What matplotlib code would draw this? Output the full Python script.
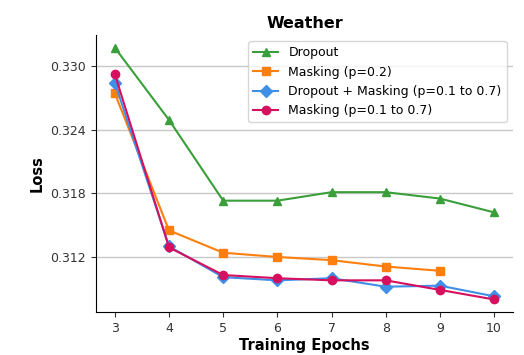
import numpy as np
import matplotlib.pyplot as plt

epochs = [3, 4, 5, 6, 7, 8, 9, 10]
dropout = [0.3317, 0.3249, 0.3173, 0.3173, 0.3181, 0.3181, 0.3175, 0.3162]
masking_fixed = [0.3274, 0.3145, 0.3124, 0.3120, 0.3117, 0.3111, 0.3107]
dropout_masking = [0.3284, 0.3130, 0.3101, 0.3098, 0.3100, 0.3092, 0.3093, 0.3083]
masking_range = [0.3292, 0.3129, 0.3103, 0.3100, 0.3098, 0.3098, 0.3089, 0.3080]
yticks = [0.312, 0.318, 0.324, 0.330]

fig, ax = plt.subplots(figsize=(5.24, 3.55), dpi=100)
fig.subplots_adjust(left=0.183, right=0.979, bottom=0.121, top=0.901)

ax.plot(epochs, dropout, marker='^', color='#3a9f3a', lw=1.5, ms=6, label='Dropout')
ax.plot(epochs[:7], masking_fixed, marker='s', color='#ff7f0e', lw=1.5, ms=6, label='Masking (p=0.2)')
ax.plot(epochs, dropout_masking, marker='D', color='#3f8fe6', lw=1.5, ms=6, label='Dropout + Masking (p=0.1 to 0.7)')
ax.plot(epochs, masking_range, marker='o', color='#d6105f', lw=1.5, ms=6, label='Masking (p=0.1 to 0.7)')

ax.set_yticks(yticks)
ax.set_xticks(epochs)
ax.yaxis.grid(True, color='#c8c8c8', lw=1)
ax.set_axisbelow(True)
ax.spines['top'].set_visible(False)
ax.spines['right'].set_visible(False)
ax.tick_params(colors='#333333', labelsize=9, length=3.5)

ax.set_title('Weather', fontweight='bold', fontsize=11.5, pad=5)
ax.set_xlabel('Training Epochs', fontweight='bold', fontsize=10.5, labelpad=2)
ax.set_ylabel('Loss', fontweight='bold', fontsize=10.5, labelpad=4)
ax.legend(loc='upper right', fontsize=9, framealpha=0.8)

fig.savefig('out.png')
